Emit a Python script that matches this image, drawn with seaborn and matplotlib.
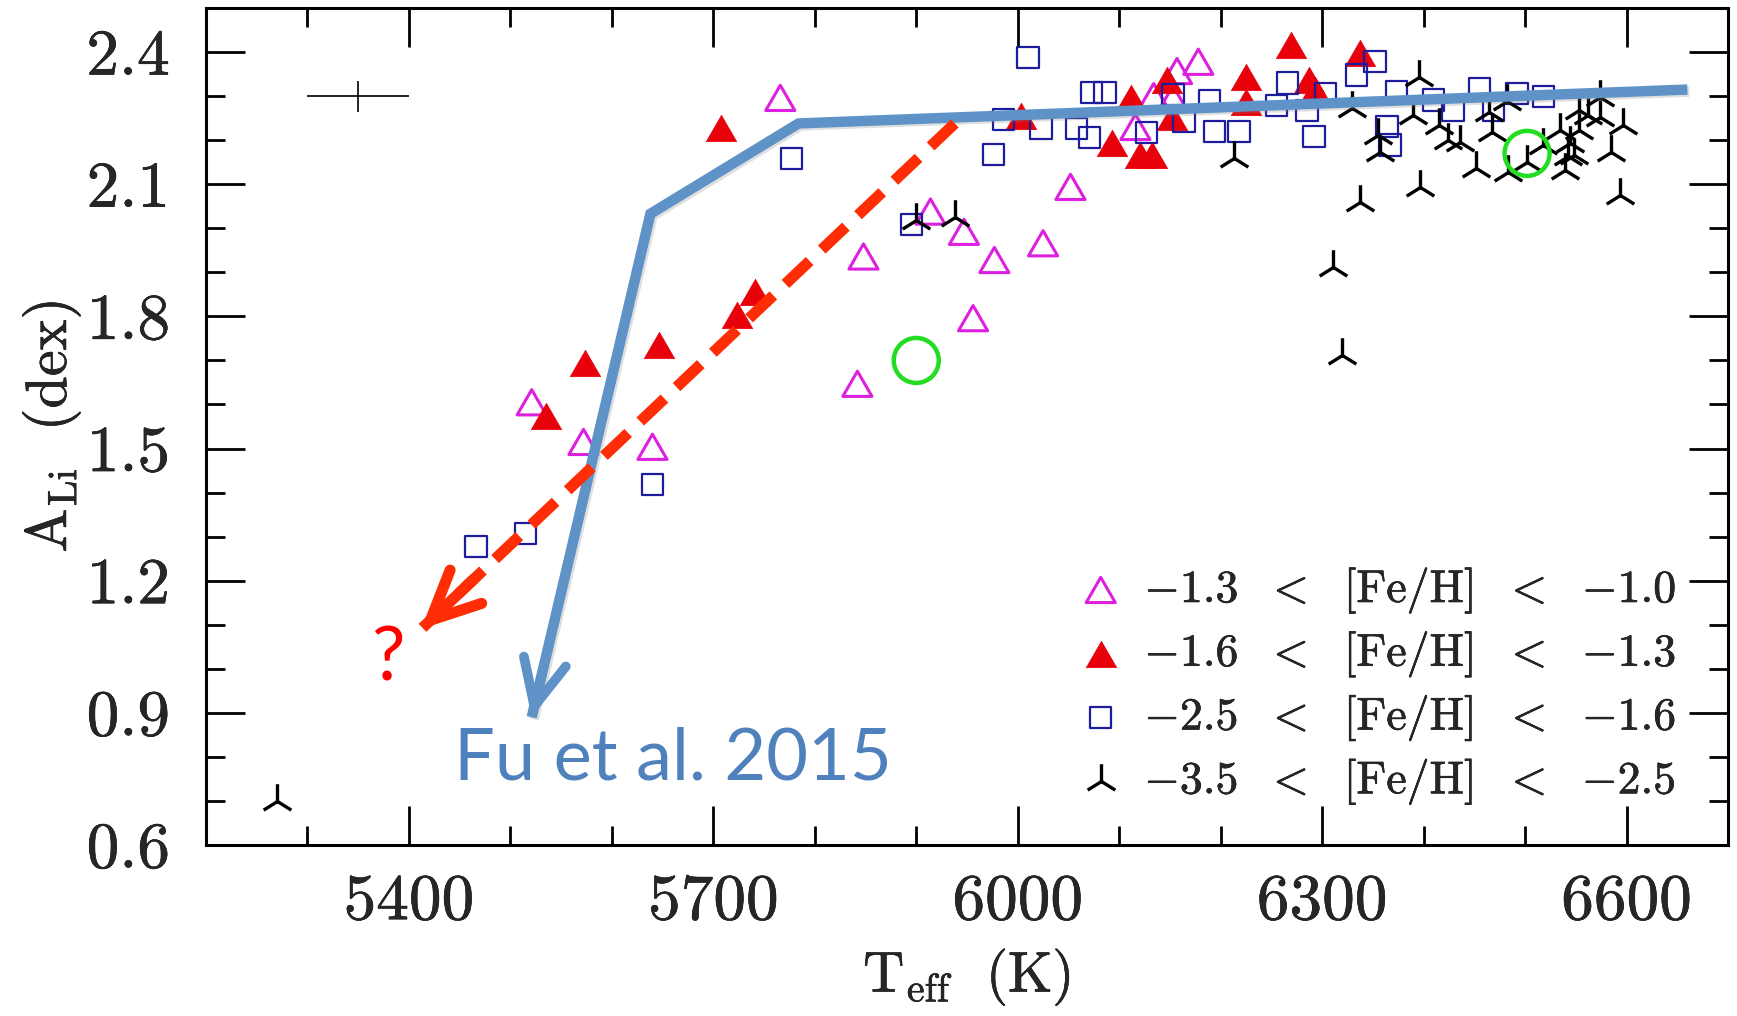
import matplotlib
matplotlib.use("Agg")
import matplotlib.pyplot as plt
import matplotlib.patheffects as pe
from matplotlib.path import Path
from matplotlib.ticker import FixedLocator, MultipleLocator, FixedFormatter
import seaborn as sns

# ---------------------------------------------------------------------------
# Lithium abundance vs effective temperature, split by metallicity bin
# ---------------------------------------------------------------------------
teff_fe_13_10 = [5521, 5572, 5640, 5766, 5842, 5848, 5914, 5947, 5956, 5977,
                 6025, 6052, 6116, 6134, 6153, 6157, 6178]
ali_fe_13_10 = [1.605, 1.515, 1.504, 2.296, 1.647, 1.936, 2.038, 1.992, 1.796, 1.928,
                1.966, 2.094, 2.230, 2.300, 2.295, 2.357, 2.378]

teff_fe_16_13 = [5535, 5574, 5646, 5708, 5723, 5741, 6003, 6093, 6112, 6121,
                 6132, 6147, 6152, 6225, 6225, 6269, 6287, 6293, 6337]
ali_fe_16_13 = [1.574, 1.694, 1.735, 2.227, 1.803, 1.856, 2.255, 2.193, 2.295, 2.166,
                2.166, 2.337, 2.253, 2.344, 2.287, 2.416, 2.337, 2.314, 2.397]

teff_fe_25_16 = [5466, 5515, 5640, 5777, 5895, 5976, 5986, 6010, 6023, 6058,
                 6071, 6073, 6086, 6127, 6153, 6164, 6189, 6194, 6218, 6255,
                 6266, 6285, 6292, 6303, 6334, 6352, 6373, 6410, 6429, 6455,
                 6469, 6492, 6518, 6364, 6367]
ali_fe_25_16 = [1.277, 1.307, 1.419, 2.159, 2.009, 2.168, 2.247, 2.388, 2.227, 2.227,
                2.206, 2.308, 2.308, 2.217, 2.303, 2.242, 2.290, 2.219, 2.219, 2.278,
                2.330, 2.268, 2.208, 2.306, 2.348, 2.378, 2.310, 2.291, 2.268, 2.318,
                2.268, 2.306, 2.299, 2.231, 2.189]

teff_fe_35_25 = [5270, 5900, 5938, 6213, 6311, 6320, 6337, 6329, 6395, 6390,
                 6415, 6355, 6357, 6424, 6436, 6467, 6464, 6452, 6483, 6502,
                 6396, 6539, 6518, 6534, 6544, 6548, 6553, 6553, 6562, 6574,
                 6574, 6597, 6585, 6594, 6482, 6542]
ali_fe_35_25 = [0.700, 2.019, 2.026, 2.159, 1.913, 1.712, 2.060, 2.272, 2.344, 2.257,
                2.234, 2.212, 2.174, 2.200, 2.196, 2.219, 2.265, 2.136, 2.128, 2.151,
                2.094, 2.132, 2.189, 2.223, 2.193, 2.166, 2.223, 2.269, 2.257, 2.299,
                2.253, 2.234, 2.174, 2.075, 2.288, 2.163]

# highlighted stars
teff_ring = [5900, 6502]
ali_ring = [1.700, 2.170]

# typical uncertainty
err_teff, err_ali = 5350, 2.30
err_dteff, err_dali = 50, 0.035

# Fu et al. (2015) lithium depletion track and the alternative trend
fu_teff = [6660, 5784, 5638, 5521]
fu_ali = [2.315, 2.238, 2.033, 0.890]
alt_teff = [5938, 5412]
alt_ali = [2.238, 1.090]

bin_labels = [r"$-1.3\ \ <\ \ [\mathrm{Fe/H}]\ \ <\ \ {-1.0}$",
              r"$-1.6\ \ <\ \ [\mathrm{Fe/H}]\ \ <\ \ {-1.3}$",
              r"$-2.5\ \ <\ \ [\mathrm{Fe/H}]\ \ <\ \ {-1.6}$",
              r"$-3.5\ \ <\ \ [\mathrm{Fe/H}]\ \ <\ \ {-2.5}$"]

x_ticks = [5400, 5700, 6000, 6300, 6600]
x_tick_labels = ["5400", "5700", "6000", "6300", "6600"]
y_ticks = [0.6, 0.9, 1.2, 1.5, 1.8, 2.1, 2.4]
y_tick_labels = ["0.6", "0.9", "1.2", "1.5", "1.8", "2.1", "2.4"]

# ---------------------------------------------------------------------------
sns.set_style("ticks")
plt.rcParams.update({
    "font.family": ["cmr10"],
    "mathtext.fontset": "cm",
    "axes.unicode_minus": False,
    "axes.formatter.use_mathtext": True,
})

MAGENTA = "#dd1fe0"
RED = "#e8000a"
NAVY = "#1c1c9c"
GREEN = "#22dd22"
FU_BLUE = "#5f93c8"
FU_TEXT = "#4f81bd"
ALT_RED = "#ff2d05"

# slightly heavier strokes for the serif labels
bold = [pe.withStroke(linewidth=0.4, foreground="black")]

fig = plt.figure(figsize=(17.37, 10.16), dpi=100)
ax = fig.add_axes([0.1186, 0.1683, 0.8762, 0.8238])

# equilateral triangle marker
tri = Path([(-1, -0.866), (1, -0.866), (0, 0.866), (-1, -0.866)],
           [Path.MOVETO, Path.LINETO, Path.LINETO, Path.CLOSEPOLY])

sns.scatterplot(x=teff_fe_13_10, y=ali_fe_13_10, marker=tri, s=440,
                color=MAGENTA, facecolor="none", edgecolor=MAGENTA,
                linewidth=2.2, ax=ax, zorder=3)
sns.scatterplot(x=teff_fe_16_13, y=ali_fe_16_13, marker=tri, s=480,
                color=RED, edgecolor=RED, linewidth=0.5, ax=ax, zorder=3)
sns.scatterplot(x=teff_fe_25_16, y=ali_fe_25_16, marker="s", s=235,
                color=NAVY, facecolor="none", edgecolor=NAVY,
                linewidth=1.6, ax=ax, zorder=3)
sns.scatterplot(x=teff_fe_35_25, y=ali_fe_35_25, marker="2", s=620,
                color="black", linewidth=2.4, ax=ax, zorder=3)
sns.scatterplot(x=teff_ring, y=ali_ring, marker="o", s=1050,
                color=GREEN, facecolor="none", edgecolor=GREEN,
                linewidth=3.2, ax=ax, zorder=4)

ax.errorbar(err_teff, err_ali, xerr=err_dteff, yerr=err_dali, fmt="none",
            ecolor="black", elinewidth=1.2, capsize=0, zorder=3)

# Fu et al. track with arrow head
ax.plot(fu_teff, fu_ali, color=FU_BLUE, lw=7.5, solid_capstyle="butt",
        solid_joinstyle="miter", zorder=5,
        path_effects=[pe.SimpleLineShadow(offset=(1.5, -1.5), alpha=0.25,
                                          shadow_color="gray"), pe.Normal()])
fu_back = (fu_teff[-1] + 0.1 * (fu_teff[-2] - fu_teff[-1]),
           fu_ali[-1] + 0.1 * (fu_ali[-2] - fu_ali[-1]))
ax.annotate("", xy=(fu_teff[-1], fu_ali[-1]), xytext=fu_back,
            arrowprops=dict(arrowstyle="->,head_length=3.3,head_width=1.55",
                            mutation_scale=10, lw=7.0, color=FU_BLUE,
                            shrinkA=0, shrinkB=0, capstyle="round",
                            joinstyle="round"), zorder=5)

# alternative (dashed) trend with arrow head
ax.plot(alt_teff, alt_ali, color=ALT_RED, lw=8, linestyle=(0, (3.0, 1.5)),
        dash_capstyle="butt", zorder=6)
alt_back = (alt_teff[-1] + 0.1 * (alt_teff[-2] - alt_teff[-1]),
            alt_ali[-1] + 0.1 * (alt_ali[-2] - alt_ali[-1]))
ax.annotate("", xy=(alt_teff[-1], alt_ali[-1]), xytext=alt_back,
            arrowprops=dict(arrowstyle="->,head_length=3.5,head_width=1.65",
                            mutation_scale=10, lw=8, color=ALT_RED,
                            shrinkA=0, shrinkB=0, capstyle="round",
                            joinstyle="round"), zorder=6)

ax.text(5380, 0.973, "?", color="#ff0000", fontsize=54, family="Lato",
        ha="center", va="baseline", zorder=6)
ax.text(5444, 0.748, "Fu et al. 2015", color=FU_TEXT, fontsize=52,
        family="Lato", ha="left", va="baseline", zorder=6)

# axes, ticks and labels
ax.set_xlim(5200, 6700)
ax.set_ylim(0.6, 2.5)
ax.xaxis.set_major_locator(FixedLocator(x_ticks))
ax.xaxis.set_major_formatter(FixedFormatter(x_tick_labels))
ax.xaxis.set_minor_locator(MultipleLocator(100))
ax.yaxis.set_major_locator(FixedLocator(y_ticks))
ax.yaxis.set_major_formatter(FixedFormatter(y_tick_labels))
ax.yaxis.set_minor_locator(MultipleLocator(0.1))
ax.tick_params(which="both", direction="in", top=True, right=True,
               width=2.0, color="black", labelsize=47)
ax.tick_params(axis="x", pad=21)
ax.tick_params(axis="y", pad=26)
ax.tick_params(which="major", length=28)
ax.tick_params(which="minor", length=14)
for sp in ax.spines.values():
    sp.set_linewidth(2.2)
    sp.set_color("black")
for lab in ax.get_xticklabels() + ax.get_yticklabels():
    lab.set_path_effects(bold)

ax.set_xlabel(r"$\mathrm{T_{eff}\ \ (K)}$", fontsize=41, path_effects=bold)
ax.set_ylabel(r"$\mathrm{A_{Li}\ \ (dex)}$", fontsize=42, path_effects=bold)
ax.xaxis.set_label_coords(0.5, -0.12)
ax.yaxis.set_label_coords(-0.0815, 0.5)

handles = list(ax.collections[:4])
leg = ax.legend(handles, bin_labels, loc="lower right",
                bbox_to_anchor=(0.966, 0.046), frameon=False, fontsize=33,
                handletextpad=0.45, labelspacing=0.29, borderaxespad=0,
                borderpad=0, handlelength=1.0)
for t in leg.get_texts():
    t.set_path_effects(bold)

fig.savefig("out.png", dpi=100)
